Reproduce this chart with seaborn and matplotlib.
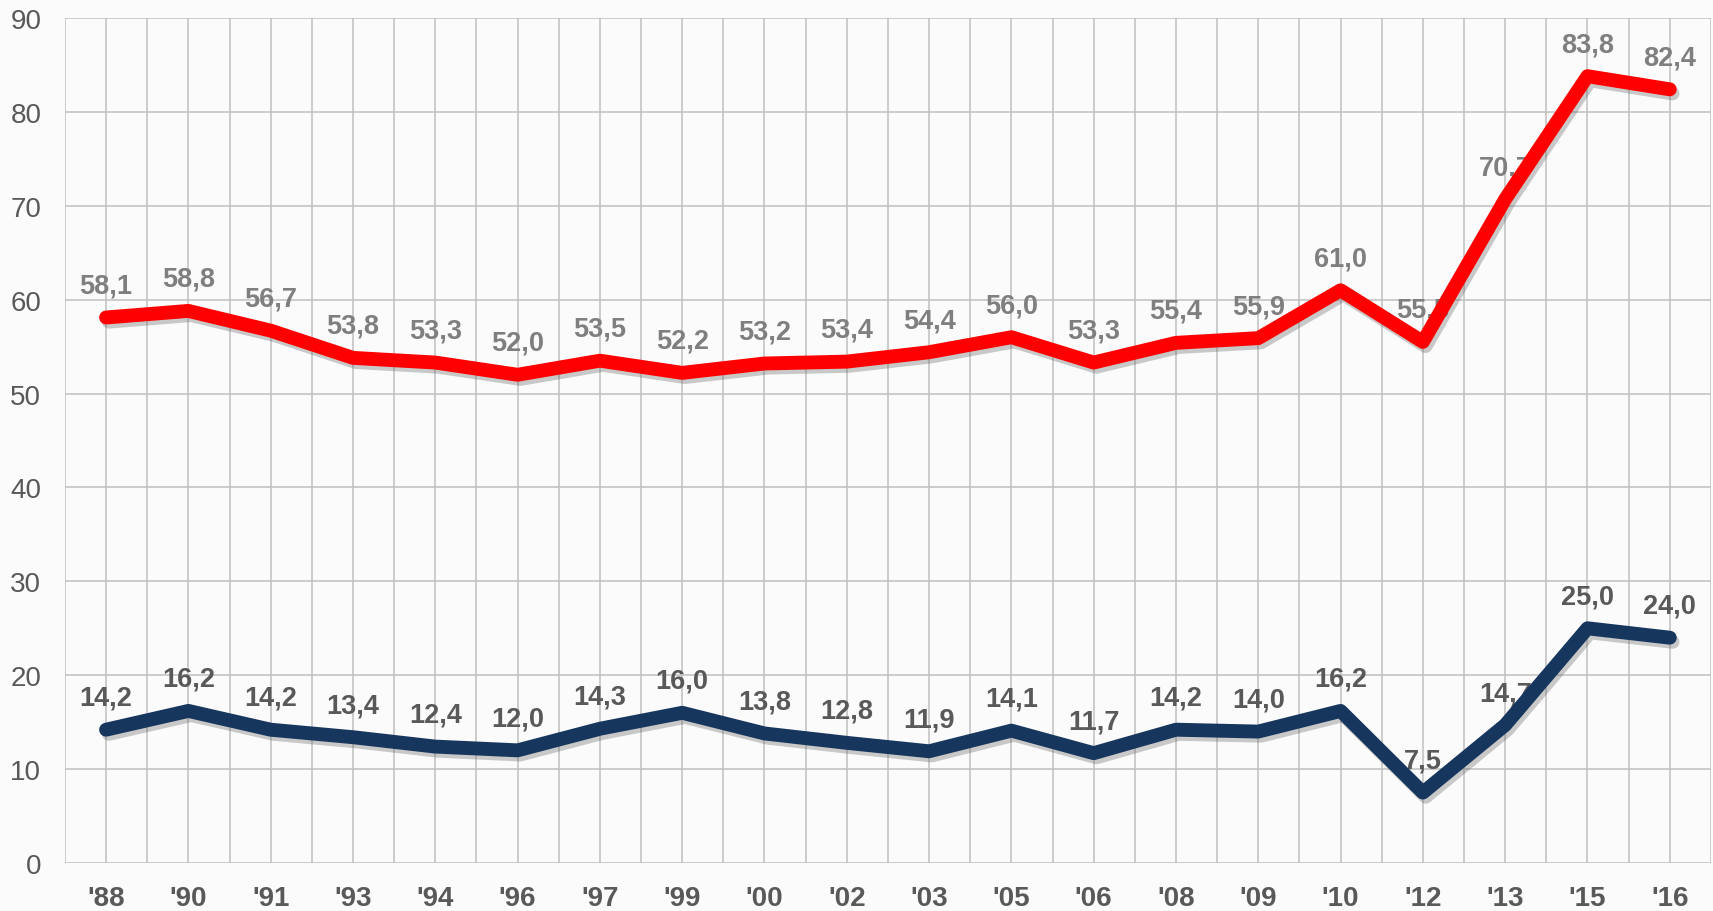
#Import needed packages
import pandas as pd
import seaborn as sns
import matplotlib.pyplot as plt
import matplotlib.patheffects as pe

#Chart data
years = ["'88", "'90", "'91", "'93", "'94", "'96", "'97", "'99", "'00", "'02",
         "'03", "'05", "'06", "'08", "'09", "'10", "'12", "'13", "'15", "'16"]
red_values = [58.1, 58.8, 56.7, 53.8, 53.3, 52.0, 53.5, 52.2, 53.2, 53.4,
              54.4, 56.0, 53.3, 55.4, 55.9, 61.0, 55.5, 70.7, 83.8, 82.4]
blue_values = [14.2, 16.2, 14.2, 13.4, 12.4, 12.0, 14.3, 16.0, 13.8, 12.8,
               11.9, 14.1, 11.7, 14.2, 14.0, 16.2, 7.5, 14.7, 25.0, 24.0]
y_ticks = [0, 10, 20, 30, 40, 50, 60, 70, 80, 90]

#Build long table for seaborn
df = pd.DataFrame({
    'pos': list(range(len(years))) * 2,
    'value': red_values + blue_values,
    'series': ['red'] * len(years) + ['blue'] * len(years),
})

sns.set_style('white')
plt.rcParams['font.family'] = ['Liberation Sans', 'DejaVu Sans']

fig = plt.figure(figsize=(17.13, 9.12), dpi=100)
fig.patch.set_facecolor('#fbfbfb')
ax = fig.add_axes([0.0379, 0.0526, 0.9609, 0.9266])
ax.set_facecolor('#fbfbfb')

shadow = [pe.SimpleLineShadow(offset=(2, -3), alpha=0.3, shadow_color='#555555'), pe.Normal()]
sns.lineplot(data=df, x='pos', y='value', hue='series',
             palette={'red': '#ff0000', 'blue': '#17365d'},
             linewidth=10, legend=False, ax=ax, zorder=5)
for line in ax.get_lines():
    line.set_solid_capstyle('round')
    line.set_solid_joinstyle('round')
    line.set_path_effects(shadow)

#Data labels (drawn under the lines)
for i, v in enumerate(red_values):
    ax.annotate(f'{v:.1f}'.replace('.', ','), (i, v), xytext=(0, 23), textcoords='offset points',
                ha='center', va='center', fontsize=19.5, fontweight='bold', color='#7f7f7f', zorder=3)
for i, v in enumerate(blue_values):
    ax.annotate(f'{v:.1f}'.replace('.', ','), (i, v), xytext=(0, 23), textcoords='offset points',
                ha='center', va='center', fontsize=19.5, fontweight='bold', color='#595959', zorder=3)

#Axes and grid
ax.set_xlim(-0.5, len(years) - 0.5)
ax.set_ylim(0, 90)
ax.set_yticks(y_ticks)
ax.set_xticks(range(len(years)))
ax.set_xticklabels(years, fontsize=20, fontweight='bold', color='#595959')
ax.tick_params(axis='y', labelsize=20, labelcolor='#595959', length=0, pad=17)
ax.tick_params(axis='x', length=0, pad=16)
ax.set_xlabel('')
ax.set_ylabel('')
for yv in y_ticks:
    ax.axhline(yv, color='#bfbfbf', linewidth=1.1, zorder=1)
for k in range(2 * len(years) + 1):
    ax.axvline(-0.5 + k * 0.5, color='#bfbfbf', linewidth=1.1, zorder=1)
for s in ax.spines.values():
    s.set_visible(False)

plt.savefig('out.png', dpi=100, facecolor=fig.get_facecolor())
